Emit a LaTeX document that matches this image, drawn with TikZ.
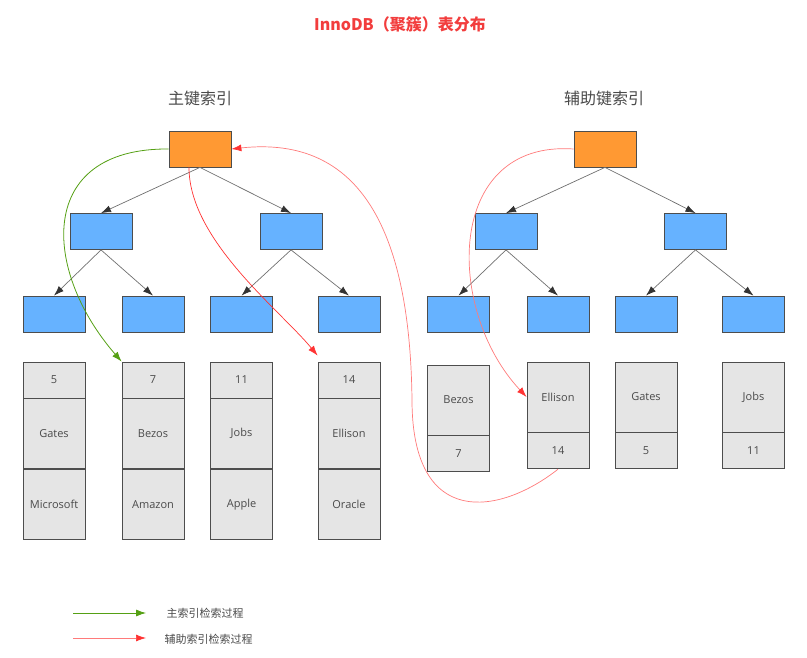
\documentclass[tikz,border=0pt]{standalone}
\usepackage{fontspec}
\setmainfont{Open Sans}
\newfontfamily\cjk{Noto Sans CJK SC}
\usetikzlibrary{arrows.meta,positioning}
\definecolor{titlered}{HTML}{F23D3D}
\definecolor{rootorange}{HTML}{FF9933}
\definecolor{nodeblue}{HTML}{66B2FF}
\definecolor{cellgray}{HTML}{E5E5E5}
\definecolor{boxline}{HTML}{4D4D4D}
\definecolor{edgegray}{HTML}{707070}
\definecolor{tipdark}{HTML}{333333}
\definecolor{labelgray}{HTML}{4A4A4A}
\definecolor{pkgreen}{HTML}{55A014}
\definecolor{skred}{HTML}{FF3333}
\definecolor{skpale}{HTML}{FF7A7A}
\tikzset{
  treenode/.style={
    rectangle, draw=boxline, line width=0.8pt,
    fill=nodeblue, minimum width=62pt, minimum height=36pt, inner sep=0pt
  },
  rootnode/.style={treenode, fill=rootorange},
  cell/.style={
    rectangle, draw=boxline, line width=0.8pt, fill=cellgray,
    minimum width=62pt, inner sep=0pt, text=labelgray,
    font=\fontsize{11}{13}\selectfont
  },
  keycell/.style={cell, minimum height=36pt},
  rowcell/.style={cell, minimum height=70pt},
  treearrow/.style={-{Latex[length=10pt,width=7pt,color=tipdark]}, edgegray, line width=0.7pt},
  pkarrow/.style={-{Latex[length=10pt,width=7pt,color=pkgreen]}, pkgreen, line width=0.8pt},
  skarrow/.style={-{Latex[length=10pt,width=7pt,color=skred]}, skred, line width=0.7pt},
  skpalearrow/.style={skarrow, skpale},
  headlabel/.style={font=\cjk\fontsize{16}{19}\selectfont, text=labelgray},
  legendlabel/.style={font=\cjk\fontsize{11}{13}\selectfont, text=labelgray, anchor=west},
}
\begin{document}
\begin{tikzpicture}[x=1pt, y=-1pt]
  \useasboundingbox (0,0) rectangle (807,658);

  \node[font=\cjk\bfseries\fontsize{16}{19}\selectfont, text=titlered] (title) at (400,24) {InnoDB（聚簇）表分布};
  \node[headlabel] (pkhead) at (200,98) {主键索引};
  \node[headlabel] (skhead) at (604,98) {辅助键索引};

  % primary key tree
  \node[rootnode] (pkroot) at (200,149) {};
  \node[treenode] (pkl) at (101,231.5) {};
  \node[treenode] (pkr) at (291,231.5) {};
  \node[treenode] (pk1) at (54,314) {};
  \node[treenode] (pk2) at (153,314) {};
  \node[treenode] (pk3) at (241.5,314) {};
  \node[treenode] (pk4) at (349,314) {};

  \draw[treearrow] (pkroot.south) -- (pkl.north);
  \draw[treearrow] (pkroot.south) -- (pkr.north);
  \draw[treearrow] (pkl.south) -- (pk1.north);
  \draw[treearrow] (pkl.south) -- (pk2.north);
  \draw[treearrow] (pkr.south) -- (pk3.north);
  \draw[treearrow] (pkr.south) -- (pk4.north);

  % primary key rows
  \node[keycell] (pk5key) at (54,380) {5};
  \node[rowcell, below=0pt of pk5key] (pk5name) {Gates};
  \node[rowcell, below=0pt of pk5name] (pk5corp) {Microsoft};
  \node[keycell] (pk7key) at (153,380) {7};
  \node[rowcell, below=0pt of pk7key] (pk7name) {Bezos};
  \node[rowcell, below=0pt of pk7name] (pk7corp) {Amazon};
  \node[keycell] (pk11key) at (241.5,380) {11};
  \node[rowcell, below=0pt of pk11key] (pk11name) {Jobs};
  \node[rowcell, below=0pt of pk11name] (pk11corp) {Apple};
  \node[keycell] (pk14key) at (349,380) {14};
  \node[rowcell, below=0pt of pk14key] (pk14name) {Ellison};
  \node[rowcell, below=0pt of pk14name] (pk14corp) {Oracle};

  % secondary key tree
  \node[rootnode] (skroot) at (605,149) {};
  \node[treenode] (skl) at (506,231.5) {};
  \node[treenode] (skr) at (695.5,231.5) {};
  \node[treenode] (sk1) at (458.5,314) {};
  \node[treenode] (sk2) at (558,314) {};
  \node[treenode] (sk3) at (646,314) {};
  \node[treenode] (sk4) at (753.5,314) {};

  \draw[treearrow] (skroot.south) -- (skl.north);
  \draw[treearrow] (skroot.south) -- (skr.north);
  \draw[treearrow] (skl.south) -- (sk1.north);
  \draw[treearrow] (skl.south) -- (sk2.north);
  \draw[treearrow] (skr.south) -- (sk3.north);
  \draw[treearrow] (skr.south) -- (sk4.north);

  % secondary key rows
  \node[rowcell] (skbezos) at (458.5,400) {Bezos};
  \node[keycell, below=0pt of skbezos] (sk7) {7};
  \node[rowcell] (skellison) at (558,397) {Ellison};
  \node[keycell, below=0pt of skellison] (sk14) {14};
  \node[rowcell] (skgates) at (646,397) {Gates};
  \node[keycell, below=0pt of skgates] (sk5) {5};
  \node[rowcell] (skjobs) at (753.5,397) {Jobs};
  \node[keycell, below=0pt of skjobs] (sk11) {11};

  % search paths
  \draw[pkarrow] (pkroot.west) .. controls (36,148) and (42,270) .. (pk7key.north west);
  \draw[skarrow] ([xshift=-11pt]pkroot.south) .. controls (189,240) and (280,310) .. ([yshift=6pt]pk14key.north west);
  \draw[skpalearrow] (skroot.west) .. controls (445,140) and (445,310) .. (skellison.west);
  \draw[skpalearrow] (sk14.south) .. controls (500,515) and (412,530) .. (412,400)
    .. controls (410,230) and (360,135) .. (pkroot.east);

  % legend
  \coordinate (pkfrom) at (73,613);
  \coordinate (pkto) at (146,613);
  \coordinate (skfrom) at (73,638);
  \coordinate (skto) at (146,638);
  \draw[pkarrow] (pkfrom) -- (pkto);
  \draw[skpalearrow] (skfrom) -- (skto);
  \node[legendlabel] (pklegend) at (163,613) {主索引检索过程};
  \node[legendlabel] (sklegend) at (161,639) {辅助索引检索过程};
\end{tikzpicture}
\end{document}
